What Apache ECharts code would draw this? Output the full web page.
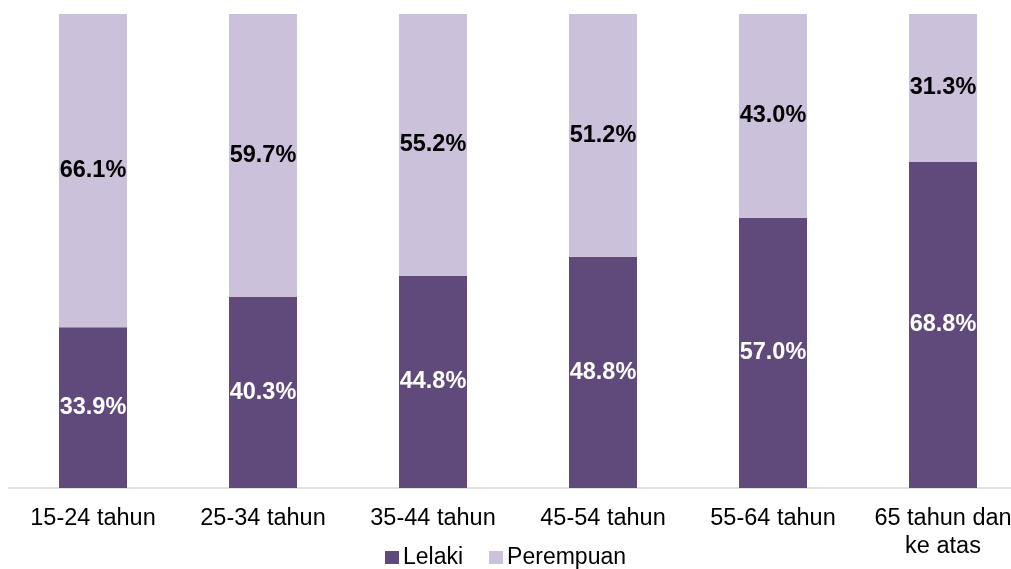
<!DOCTYPE html>
<html><head><meta charset="utf-8">
<script src="https://cdn.jsdelivr.net/npm/echarts@6/dist/echarts.min.js"></script>
<style>html,body{margin:0;padding:0;background:#fff}#c{width:1011px;height:569px}</style>
</head><body><div id="c"></div>
<script>
var categories = ['15-24 tahun','25-34 tahun','35-44 tahun','45-54 tahun','55-64 tahun','65 tahun dan\nke atas'];
var lelaki = [33.9, 40.3, 44.8, 48.8, 57.0, 68.8];
var perempuan = [66.1, 59.7, 55.2, 51.2, 43.0, 31.3];
var seriesNames = ['Lelaki','Perempuan'];
var chart = echarts.init(document.getElementById('c'));
var font = 'Liberation Sans, Arial, sans-serif';
chart.setOption({
  animation:false,
  textStyle:{fontFamily:font},
  grid:{left:8,width:1020,top:14,bottom:81,containLabel:false,outerBoundsMode:'none'},
  legend:{top:546,left:385,padding:0,itemWidth:14,itemHeight:13,itemGap:26,
    textStyle:{fontSize:23,color:'#000',fontFamily:font,padding:[0,0,0,-1]},
    icon:'rect',data:seriesNames},
  xAxis:{type:'category',data:categories,
    axisLine:{lineStyle:{color:'#D9D9D9',width:1.5}},axisTick:{show:false},
    axisLabel:{interval:0,hideOverlap:false,fontSize:23.5,color:'#000',margin:17,lineHeight:28,fontFamily:font}},
  yAxis:{type:'value',min:0,max:100,show:false,splitLine:{show:false}},
  series:[
    {name:seriesNames[0],type:'bar',stack:'a',barWidth:68,data:lelaki,
     itemStyle:{color:'#604A7B'},
     label:{show:true,position:'inside',formatter:function(p){return p.value.toFixed(1)+'%';},
       color:'#fff',fontSize:23.5,fontWeight:'bold',fontFamily:font}},
    {name:seriesNames[1],type:'bar',stack:'a',barWidth:68,data:perempuan,
     itemStyle:{color:'#CCC1DA'},
     label:{show:true,position:'inside',formatter:function(p){return p.value.toFixed(1)+'%';},
       color:'#000',fontSize:23.5,fontWeight:'bold',fontFamily:font}}
  ]
});
</script></body></html>
